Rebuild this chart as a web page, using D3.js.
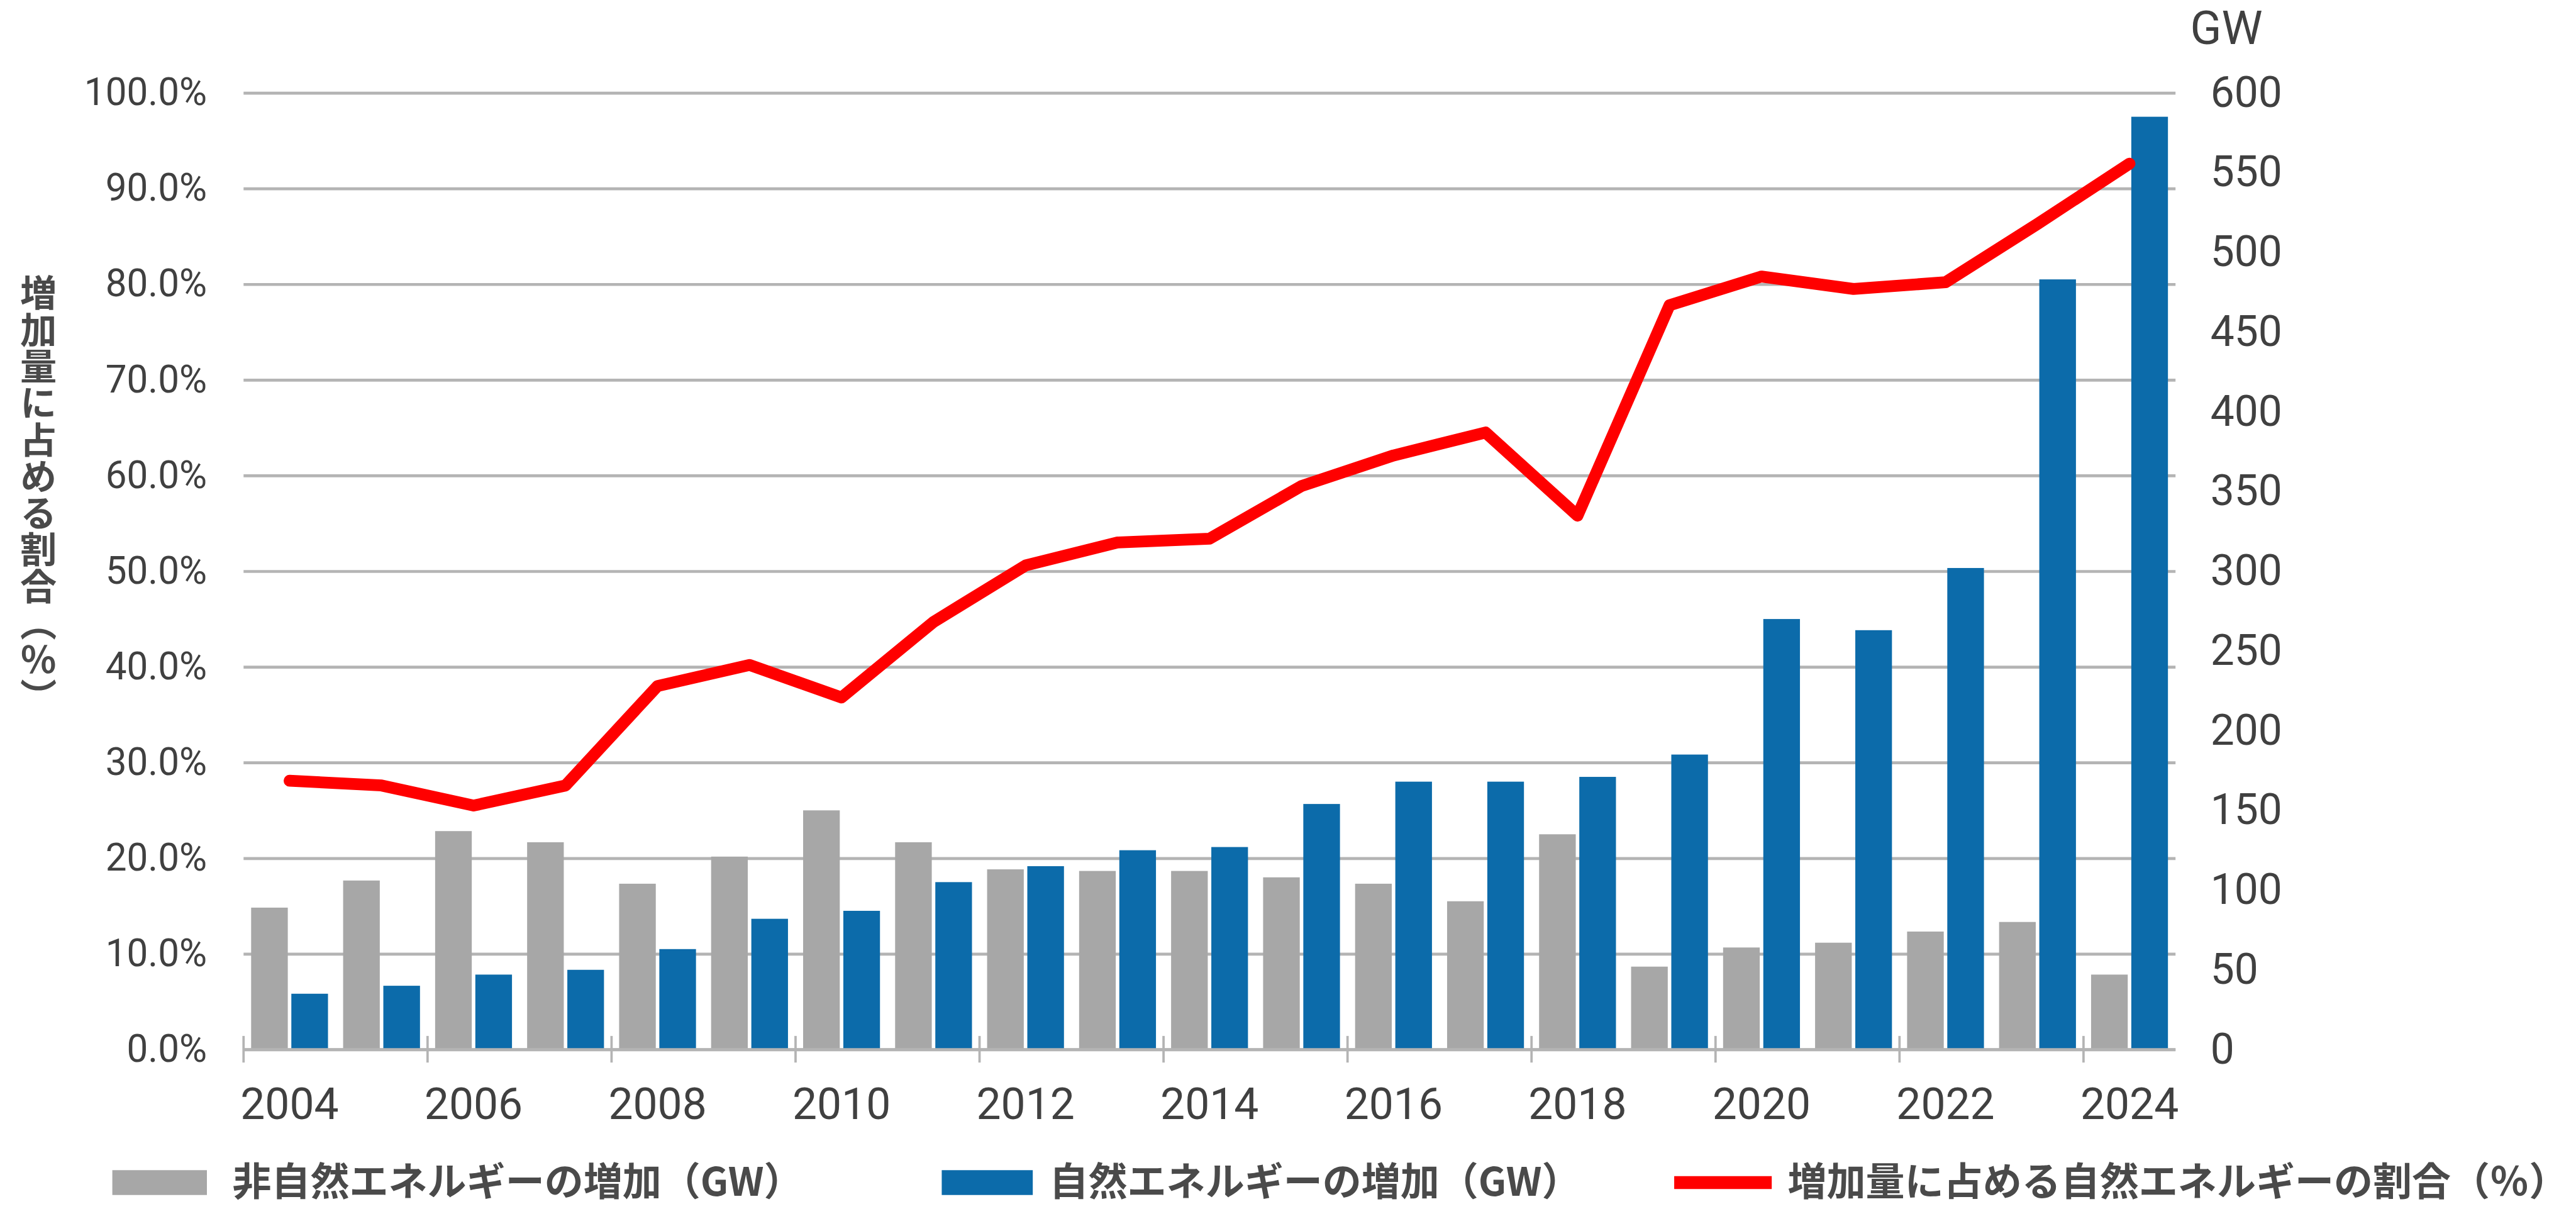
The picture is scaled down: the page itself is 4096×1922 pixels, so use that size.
<!DOCTYPE html>
<html>
<head>
<meta charset="utf-8">
<script src="https://cdn.jsdelivr.net/npm/d3@7"></script>
<style>
  html, body { margin: 0; padding: 0; background: #ffffff; }
  svg { display: block; }
</style>
</head>
<body>
<svg id="chart" width="4096" height="1922"></svg>
<script>
// Annual capacity additions (GW) and renewable share of additions (%), 2004–2024
const years = [2004, 2005, 2006, 2007, 2008, 2009, 2010, 2011, 2012, 2013, 2014,
               2015, 2016, 2017, 2018, 2019, 2020, 2021, 2022, 2023, 2024];
const nonRenewableGW = [89, 106, 137, 130, 104, 121, 150, 130, 113, 112, 112,
                        108, 104, 93, 135, 52, 64, 67, 74, 80, 47];
const renewableGW = [35, 40, 47, 50, 63, 82, 87, 105, 115, 125, 127,
                     154, 168, 168, 171, 185, 270, 263, 302, 483, 585];
const renewableShare = [28.1, 27.6, 25.5, 27.6, 38.0, 40.2, 36.8, 44.7, 50.6, 53.0, 53.4,
                        58.9, 62.1, 64.5, 55.8, 77.8, 80.8, 79.5, 80.2, 86.3, 92.6];

const shareTicks = [0, 10, 20, 30, 40, 50, 60, 70, 80, 90, 100];
const gwTicks = [0, 50, 100, 150, 200, 250, 300, 350, 400, 450, 500, 550, 600];
const yearTicks = [2004, 2006, 2008, 2010, 2012, 2014, 2016, 2018, 2020, 2022, 2024];

const seriesKeys = ["non", "ren"];
const legendLabels = ["非自然エネルギーの増加（GW）", "自然エネルギーの増加（GW）", "増加量に占める自然エネルギーの割合（％）"];
const leftTitle = "増加量に占める割合（％）";
const rightUnit = "GW";

// Layout is laid out on a 4354 x 2043 canvas and scaled down to the window
const SCALE = 0.94;
const COLORS = { non: "#a7a7a7", ren: "#0c6baa", line: "#ff0000", grid: "#b4b4b4", text: "#404040", title: "#4a4a4a" };
const NUM_FONT = "Roboto, 'Noto Sans', sans-serif";
const CJK_FONT = "'Noto Sans CJK JP', 'Noto Sans', sans-serif";

const svg = d3.select("#chart");
const g = svg.append("g").attr("transform", `scale(${SCALE})`);

const plotLeft = 412, plotRight = 3680, plotTop = 157, plotBottom = 1775;

const x = d3.scaleBand().domain(years).range([plotLeft, plotRight])
  .paddingInner(0.1645).paddingOuter(0.08225);
const xs = d3.scaleBand().domain(seriesKeys).range([0, x.bandwidth()]).paddingInner(0.0882);
const yPct = d3.scaleLinear().domain([0, 100]).range([plotBottom, plotTop]);
const yGW = d3.scaleLinear().domain([0, 600]).range([plotBottom, plotTop]);

// Horizontal gridlines
g.append("g")
  .attr("transform", `translate(${plotLeft},0)`)
  .call(d3.axisRight(yPct).tickValues(shareTicks).tickSize(plotRight - plotLeft).tickFormat(""))
  .call(s => s.select(".domain").remove())
  .call(s => s.selectAll("line").attr("stroke", COLORS.grid).attr("stroke-width", 5));

// Left axis labels (%)
g.append("g")
  .attr("transform", `translate(${plotLeft},0)`)
  .call(d3.axisLeft(yPct).tickValues(shareTicks).tickSize(0).tickPadding(62)
    .tickFormat(d => d.toFixed(1) + "%"))
  .call(s => s.select(".domain").remove())
  .call(s => s.selectAll("text")
    .attr("fill", COLORS.text).style("font-family", NUM_FONT).style("font-size", "64px"));

// Right axis labels (GW)
g.append("g")
  .attr("transform", `translate(${plotRight},0)`)
  .call(d3.axisRight(yGW).tickValues(gwTicks).tickSize(0).tickPadding(59))
  .call(s => s.select(".domain").remove())
  .call(s => s.selectAll("text")
    .attr("fill", COLORS.text).style("font-family", NUM_FONT).style("font-size", "72px"));

g.append("text")
  .attr("x", 3766).attr("y", 74)
  .attr("text-anchor", "middle")
  .attr("fill", COLORS.text)
  .style("font-family", NUM_FONT).style("font-size", "78px")
  .text(rightUnit);

// Bars
const barData = years.map((yr, i) => ({ year: yr, non: nonRenewableGW[i], ren: renewableGW[i] }));
const groups = g.append("g").selectAll("g")
  .data(barData).join("g")
  .attr("transform", d => `translate(${x(d.year)},0)`);
groups.selectAll("rect")
  .data(d => seriesKeys.map(k => ({ key: k, value: d[k] })))
  .join("rect")
  .attr("x", d => xs(d.key))
  .attr("width", xs.bandwidth())
  .attr("y", d => yGW(d.value))
  .attr("height", d => plotBottom - yGW(d.value))
  .attr("fill", d => COLORS[d.key]);

// Category axis: baseline, tick marks between every other year, labels
g.append("line")
  .attr("x1", plotLeft).attr("x2", plotRight)
  .attr("y1", plotBottom).attr("y2", plotBottom)
  .attr("stroke", COLORS.grid).attr("stroke-width", 5);

const gapHalf = x.step() * x.paddingInner() / 2;
g.append("g").selectAll("line")
  .data(yearTicks)
  .join("line")
  .attr("x1", d => x(d) - gapHalf).attr("x2", d => x(d) - gapHalf)
  .attr("y1", plotBottom - 23).attr("y2", plotBottom + 22)
  .attr("stroke", COLORS.grid).attr("stroke-width", 4);

g.append("g")
  .attr("transform", `translate(0,${plotBottom})`)
  .call(d3.axisBottom(x).tickValues(yearTicks).tickSize(0).tickPadding(65))
  .call(s => s.select(".domain").remove())
  .call(s => s.selectAll("text")
    .attr("fill", COLORS.text).style("font-family", NUM_FONT).style("font-size", "74px"));

// Renewable share line
const shareLine = d3.line()
  .x((d, i) => x(years[i]) + x.bandwidth() / 2)
  .y(d => yPct(d));
g.append("path")
  .datum(renewableShare)
  .attr("d", shareLine)
  .attr("fill", "none")
  .attr("stroke", COLORS.line)
  .attr("stroke-width", 20)
  .attr("stroke-linejoin", "round")
  .attr("stroke-linecap", "round");

// Vertical axis title
g.append("text")
  .attr("x", 65).attr("y", 836)
  .attr("text-anchor", "middle")
  .attr("fill", COLORS.title)
  .style("writing-mode", "vertical-rl")
  .style("text-orientation", "upright")
  .style("font-family", CJK_FONT).style("font-weight", "700").style("font-size", "62px")
  .text(leftTitle);

// Legend
const legendItems = [
  { label: legendLabels[0], type: "rect", color: COLORS.non, x0: 190, w: 160, tx: 393 },
  { label: legendLabels[1], type: "rect", color: COLORS.ren, x0: 1593, w: 154, tx: 1775 },
  { label: legendLabels[2], type: "line", color: COLORS.line, x0: 2832, w: 165, tx: 3024 }
];
const legend = g.append("g");
legendItems.forEach(item => {
  if (item.type === "rect") {
    legend.append("rect")
      .attr("x", item.x0).attr("y", 1979).attr("width", item.w).attr("height", 42)
      .attr("fill", item.color);
  } else {
    legend.append("line")
      .attr("x1", item.x0).attr("x2", item.x0 + item.w)
      .attr("y1", 2000).attr("y2", 2000)
      .attr("stroke", item.color).attr("stroke-width", 22);
  }
  legend.append("text")
    .attr("x", item.tx).attr("y", 2022)
    .attr("fill", COLORS.title)
    .style("font-family", CJK_FONT).style("font-weight", "700").style("font-size", "66px")
    .text(item.label);
});
</script>
</body>
</html>
